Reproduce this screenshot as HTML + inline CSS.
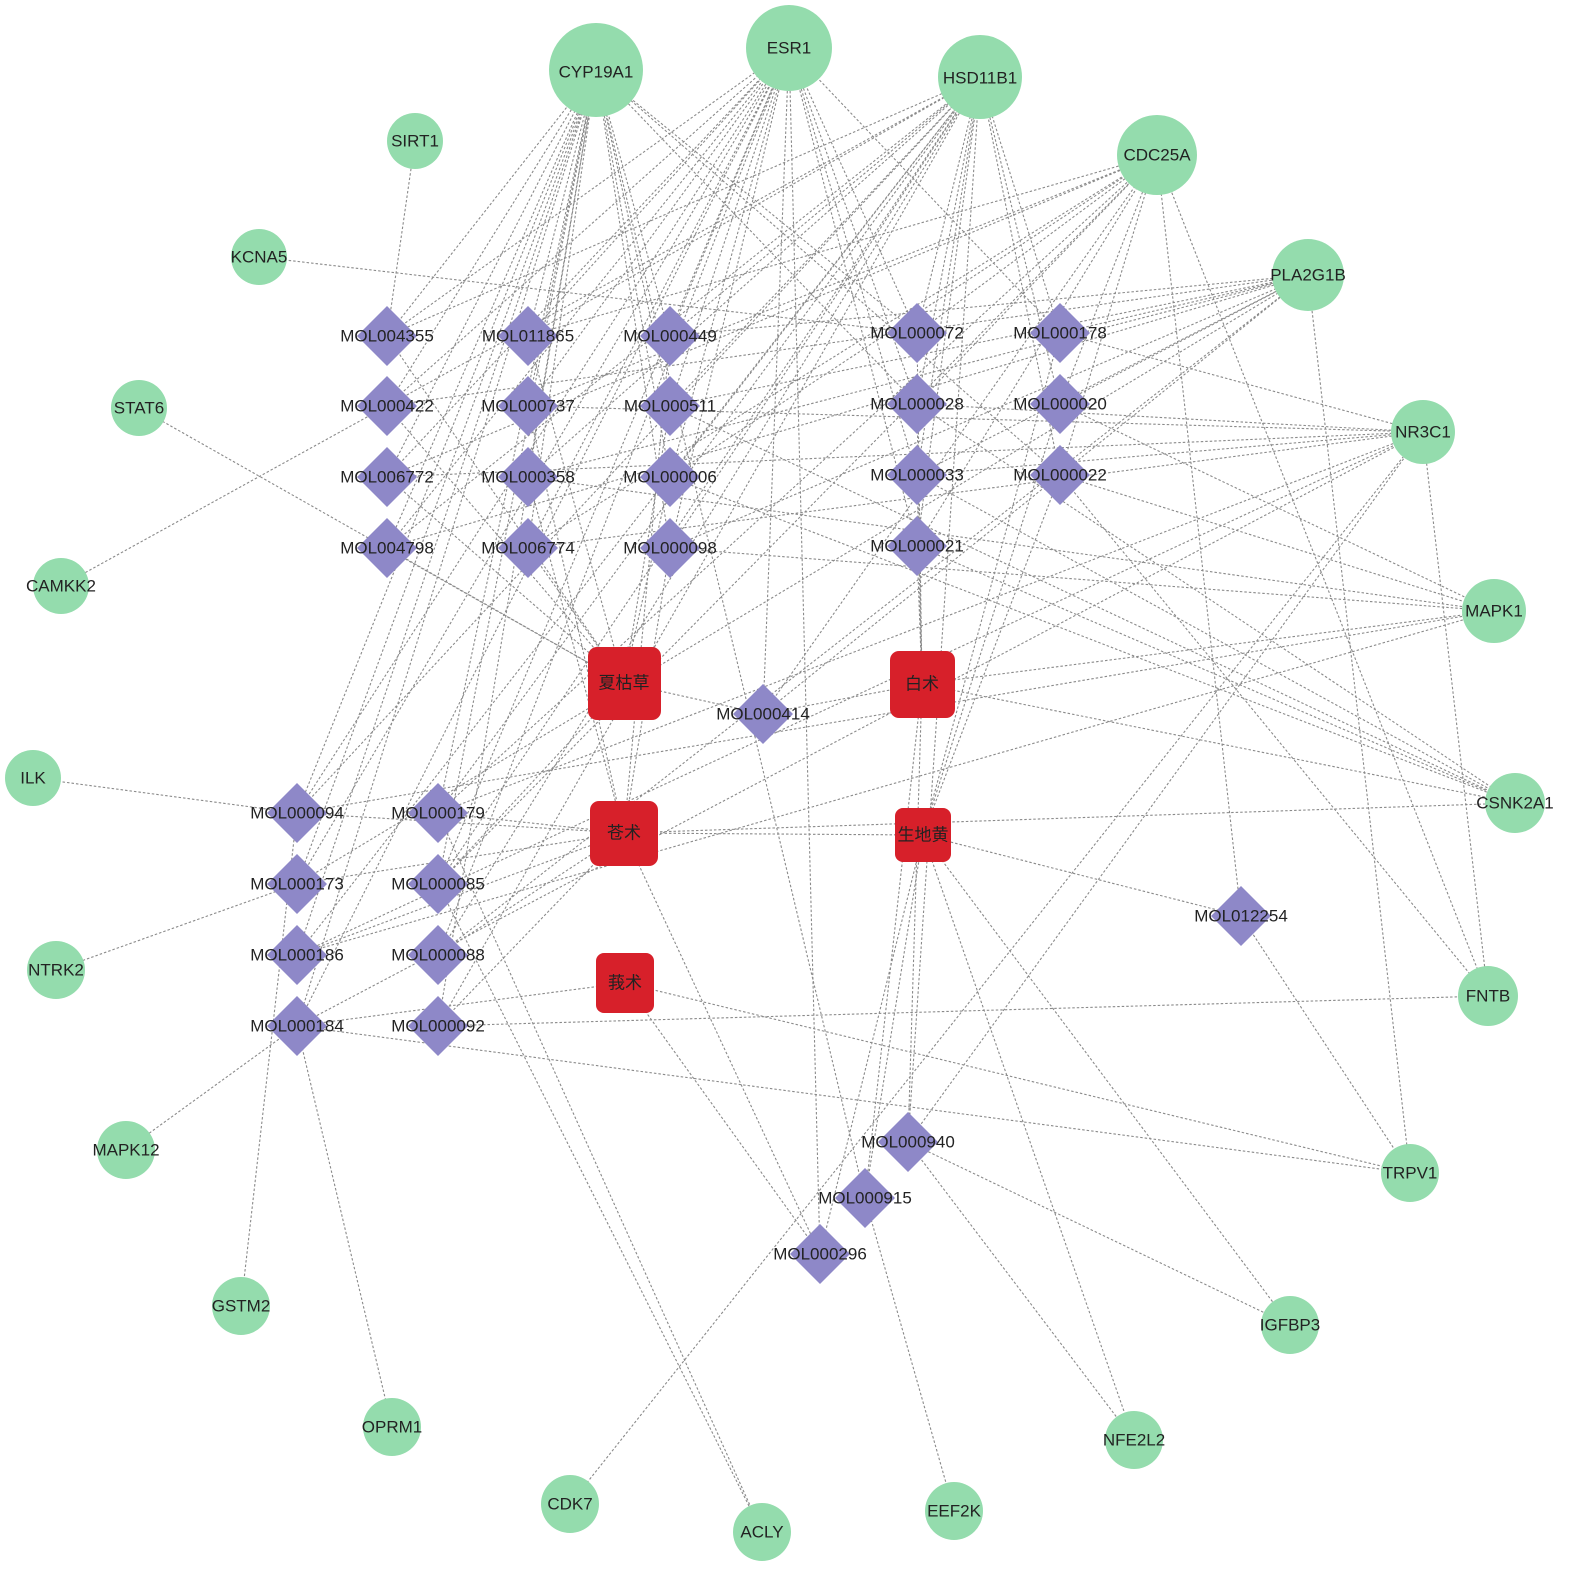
<!DOCTYPE html>
<html><head><meta charset="utf-8"><style>
html,body{margin:0;padding:0;background:#fff;overflow:hidden}
svg{display:block}
text{font-family:"Liberation Sans","Noto Sans CJK SC",sans-serif;fill:#222;text-anchor:middle;dominant-baseline:central}
</style></head><body>
<svg width="1575" height="1573" viewBox="0 0 1575 1573" xmlns="http://www.w3.org/2000/svg">
<g stroke="#8a8a8a" stroke-width="1.1" stroke-dasharray="2.5,2" fill="none">
<path d="
M387,336L596,70 M387,336L789,48 M387,336L980,77 M387,336L624,683 M387,336L415,141
M528,336L596,70 M528,336L789,48 M528,336L980,77 M528,336L1157,155 M528,336L624,683
M670,336L596,70 M670,336L789,48 M670,336L980,77 M670,336L1308,275 M670,336L624,833
M917,333L596,70 M917,333L789,48 M917,333L980,77 M917,333L1157,155 M917,333L922,684 M917,333L259,257
M1060,333L789,48 M1060,333L980,77 M1060,333L1308,275 M1060,333L923,835 M1060,333L1423,432
M387,406L596,70 M387,406L789,48 M387,406L980,77 M387,406L1308,275 M387,406L624,683 M387,406L61,586
M528,406L596,70 M528,406L789,48 M528,406L1157,155 M528,406L624,833 M528,406L1423,432
M670,406L596,70 M670,406L789,48 M670,406L980,77 M670,406L1308,275 M670,406L624,683 M670,406L1515,803
M917,404L596,70 M917,404L789,48 M917,404L980,77 M917,404L1157,155 M917,404L922,684 M917,404L1515,803 M917,404L1423,432
M1060,404L980,77 M1060,404L1157,155 M1060,404L1308,275 M1060,404L923,835 M1060,404L1494,611
M387,477L596,70 M387,477L789,48 M387,477L1157,155 M387,477L624,683 M387,477L1423,432
M528,477L596,70 M528,477L980,77 M528,477L1308,275 M528,477L624,833 M528,477L1494,611
M670,477L596,70 M670,477L789,48 M670,477L980,77 M670,477L1157,155 M670,477L624,683 M670,477L1515,803
M917,475L789,48 M917,475L980,77 M917,475L1308,275 M917,475L922,684 M917,475L1515,803 M917,475L1423,432
M1060,475L596,70 M1060,475L980,77 M1060,475L1157,155 M1060,475L923,835 M1060,475L1488,996 M1060,475L1494,611
M387,548L596,70 M387,548L789,48 M387,548L980,77 M387,548L624,683 M387,548L1308,275
M528,548L596,70 M528,548L789,48 M528,548L1157,155 M528,548L624,683 M528,548L1423,432
M670,548L596,70 M670,548L789,48 M670,548L980,77 M670,548L1308,275 M670,548L624,833 M670,548L1494,611
M917,546L789,48 M917,546L980,77 M917,546L1157,155 M917,546L922,684 M917,546L1515,803
M763,714L624,683 M763,714L922,684 M763,714L1157,155 M763,714L789,48 M763,714L1308,275
M297,813L596,70 M297,813L789,48 M297,813L980,77 M297,813L624,833 M297,813L33,778 M297,813L241,1306 M297,813L1494,611
M438,813L596,70 M438,813L980,77 M438,813L1157,155 M438,813L624,833 M438,813L762,1532 M438,813L1423,432
M297,884L596,70 M297,884L789,48 M297,884L624,833 M297,884L56,970 M297,884L1308,275
M438,884L596,70 M438,884L789,48 M438,884L980,77 M438,884L624,683 M438,884L762,1532 M438,884L1157,155
M297,955L596,70 M297,955L980,77 M297,955L624,833 M297,955L1494,611 M297,955L1423,432
M438,955L789,48 M438,955L980,77 M438,955L624,833 M438,955L1308,275
M297,1026L596,70 M297,1026L789,48 M297,1026L624,983 M297,1026L126,1150 M297,1026L392,1427 M297,1026L1410,1173 M297,1026L1423,432
M438,1026L596,70 M438,1026L980,77 M438,1026L624,833 M438,1026L1488,996
M1241,916L923,835 M1241,916L1410,1173 M1241,916L1157,155
M908,1142L922,684 M908,1142L1290,1325 M908,1142L1134,1440 M908,1142L1423,432 M908,1142L980,77
M865,1198L922,684 M865,1198L954,1511 M865,1198L596,70 M865,1198L923,835
M820,1254L625,983 M820,1254L624,833 M820,1254L789,48 M820,1254L923,835
M139,408L624,683 M570,1504L1423,432 M624,833L1515,803 M624,833L923,835 M923,835L1134,1440 M923,835L1290,1325
M625,983L1410,1173 M922,684L1515,803 M922,684L1494,611 M1157,155L1488,996 M1308,275L1410,1173 M1423,432L1488,996
"/>
</g>
<g fill="#94dcad">
<circle cx="596" cy="70" r="47"/><circle cx="789" cy="48" r="43"/><circle cx="980" cy="77" r="42"/>
<circle cx="1157" cy="155" r="40"/><circle cx="1308" cy="275" r="36"/><circle cx="1423" cy="432" r="32"/>
<circle cx="1494" cy="611" r="32"/><circle cx="1515" cy="803" r="30"/><circle cx="1488" cy="996" r="30"/>
<circle cx="1410" cy="1173" r="29"/><circle cx="1290" cy="1325" r="29"/><circle cx="1134" cy="1440" r="29"/>
<circle cx="954" cy="1511" r="29"/><circle cx="762" cy="1532" r="29"/><circle cx="570" cy="1504" r="29"/>
<circle cx="392" cy="1427" r="29"/><circle cx="241" cy="1306" r="29"/><circle cx="126" cy="1150" r="29"/>
<circle cx="56" cy="970" r="29"/><circle cx="33" cy="778" r="28"/><circle cx="61" cy="586" r="28"/>
<circle cx="139" cy="408" r="28"/><circle cx="259" cy="257" r="28"/><circle cx="415" cy="141" r="28"/>
</g>
<path fill="#8e88c8" d="
M387,306l30,30l-30,30l-30,-30z M528,306l30,30l-30,30l-30,-30z M670,306l30,30l-30,30l-30,-30z M917,303l30,30l-30,30l-30,-30z M1060,303l30,30l-30,30l-30,-30z
M387,376l30,30l-30,30l-30,-30z M528,376l30,30l-30,30l-30,-30z M670,376l30,30l-30,30l-30,-30z M917,374l30,30l-30,30l-30,-30z M1060,374l30,30l-30,30l-30,-30z
M387,447l30,30l-30,30l-30,-30z M528,447l30,30l-30,30l-30,-30z M670,447l30,30l-30,30l-30,-30z M917,445l30,30l-30,30l-30,-30z M1060,445l30,30l-30,30l-30,-30z
M387,518l30,30l-30,30l-30,-30z M528,518l30,30l-30,30l-30,-30z M670,518l30,30l-30,30l-30,-30z M917,516l30,30l-30,30l-30,-30z
M763,684l30,30l-30,30l-30,-30z
M297,783l30,30l-30,30l-30,-30z M438,783l30,30l-30,30l-30,-30z M297,854l30,30l-30,30l-30,-30z M438,854l30,30l-30,30l-30,-30z
M297,925l30,30l-30,30l-30,-30z M438,925l30,30l-30,30l-30,-30z M297,996l30,30l-30,30l-30,-30z M438,996l30,30l-30,30l-30,-30z
M1241,886l30,30l-30,30l-30,-30z M908,1112l30,30l-30,30l-30,-30z M865,1168l30,30l-30,30l-30,-30z M820,1224l30,30l-30,30l-30,-30z"/>
<g fill="#d7202a">
<rect x="588" y="647" width="73" height="73" rx="9"/>
<rect x="890" y="651" width="65" height="67" rx="9"/>
<rect x="590" y="801" width="68" height="65" rx="9"/>
<rect x="895" y="808" width="56" height="54" rx="8"/>
<rect x="596" y="953" width="58" height="60" rx="8"/>
</g>
<g font-size="17">
<text x="596" y="72">CYP19A1</text><text x="789" y="48">ESR1</text><text x="980" y="78">HSD11B1</text>
<text x="1157" y="155">CDC25A</text><text x="1308" y="275">PLA2G1B</text><text x="1423" y="432">NR3C1</text>
<text x="1494" y="611">MAPK1</text><text x="1515" y="803">CSNK2A1</text><text x="1488" y="996">FNTB</text>
<text x="1410" y="1173">TRPV1</text><text x="1290" y="1325">IGFBP3</text><text x="1134" y="1440">NFE2L2</text>
<text x="954" y="1511">EEF2K</text><text x="762" y="1532">ACLY</text><text x="570" y="1504">CDK7</text>
<text x="392" y="1427">OPRM1</text><text x="241" y="1306">GSTM2</text><text x="126" y="1150">MAPK12</text>
<text x="56" y="970">NTRK2</text><text x="33" y="778">ILK</text><text x="61" y="586">CAMKK2</text>
<text x="139" y="408">STAT6</text><text x="259" y="257">KCNA5</text><text x="415" y="141">SIRT1</text>
</g>
<g font-size="17">
<text x="387" y="336">MOL004355</text><text x="528" y="336">MOL011865</text><text x="670" y="336">MOL000449</text><text x="917" y="333">MOL000072</text><text x="1060" y="333">MOL000178</text>
<text x="387" y="406">MOL000422</text><text x="528" y="406">MOL000737</text><text x="670" y="406">MOL000511</text><text x="917" y="404">MOL000028</text><text x="1060" y="404">MOL000020</text>
<text x="387" y="477">MOL006772</text><text x="528" y="477">MOL000358</text><text x="670" y="477">MOL000006</text><text x="917" y="475">MOL000033</text><text x="1060" y="475">MOL000022</text>
<text x="387" y="548">MOL004798</text><text x="528" y="548">MOL006774</text><text x="670" y="548">MOL000098</text><text x="917" y="546">MOL000021</text>
<text x="763" y="714">MOL000414</text>
<text x="297" y="813">MOL000094</text><text x="438" y="813">MOL000179</text>
<text x="297" y="884">MOL000173</text><text x="438" y="884">MOL000085</text>
<text x="297" y="955">MOL000186</text><text x="438" y="955">MOL000088</text>
<text x="297" y="1026">MOL000184</text><text x="438" y="1026">MOL000092</text>
<text x="1241" y="916">MOL012254</text>
<text x="908" y="1142">MOL000940</text><text x="865" y="1198">MOL000915</text><text x="820" y="1254">MOL000296</text>
</g>
<g font-size="17">
<text x="624" y="683">夏枯草</text><text x="922" y="684">白术</text><text x="624" y="833">苍术</text><text x="923" y="835">生地黄</text><text x="625" y="983">莪术</text>
</g>
</svg>
</body></html>
